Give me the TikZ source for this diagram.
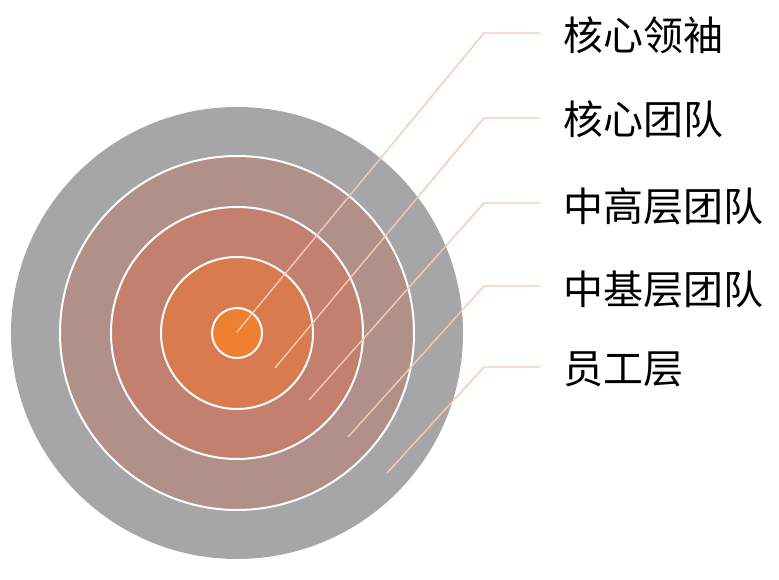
\documentclass[tikz,border=0pt]{standalone}
\usepackage{fontspec}
\newfontfamily\cjk{Noto Sans CJK SC}
\definecolor{ringA}{HTML}{A6A6A6}
\definecolor{ringB}{HTML}{B2908A}
\definecolor{ringC}{HTML}{C4806E}
\definecolor{ringD}{HTML}{D97A4F}
\definecolor{ringE}{HTML}{EF7F31}
\definecolor{leader}{HTML}{F5C9B3}
\begin{document}
\begin{tikzpicture}[x=1pt,y=-1pt,
  ring/.style={circle,draw=white,line width=2pt,inner sep=0pt,minimum size=#1},
  lbl/.style={anchor=west,font=\cjk\fontsize{40}{40}\selectfont,inner sep=0pt},
  lead/.style={draw=leader,line width=1.4pt}]
\useasboundingbox (0,0) rectangle (779,580);
\node[ring=452pt,draw=none,fill=ringA] (c1) at (237,333) {};
\node[ring=354pt,fill=ringB] (c2) at (237,333) {};
\node[ring=252pt,fill=ringC] (c3) at (237,333) {};
\node[ring=152pt,fill=ringD] (c4) at (237,333) {};
\node[ring=50pt,fill=ringE] (c5) at (237,333) {};
\coordinate (p1) at (237,332);
\coordinate (p2) at (275,368);
\coordinate (p3) at (309,400);
\coordinate (p4) at (348,437);
\coordinate (p5) at (387,473);
\coordinate (k1) at (484,33);
\coordinate (k2) at (484,118);
\coordinate (k3) at (484,203);
\coordinate (k4) at (484,286);
\coordinate (k5) at (484,367);
\coordinate (e1) at (540,33);
\coordinate (e2) at (540,118);
\coordinate (e3) at (540,203);
\coordinate (e4) at (540,286);
\coordinate (e5) at (540,367);
\node[lbl] (t1) at (563,35) {核心领袖};
\node[lbl] (t2) at (563,119) {核心团队};
\node[lbl] (t3) at (563,206) {中高层团队};
\node[lbl] (t4) at (563,289) {中基层团队};
\node[lbl] (t5) at (563,369) {员工层};
\draw[lead] (p1) -- (k1) -- (e1);
\draw[lead] (p2) -- (k2) -- (e2);
\draw[lead] (p3) -- (k3) -- (e3);
\draw[lead] (p4) -- (k4) -- (e4);
\draw[lead] (p5) -- (k5) -- (e5);
\end{tikzpicture}
\end{document}
